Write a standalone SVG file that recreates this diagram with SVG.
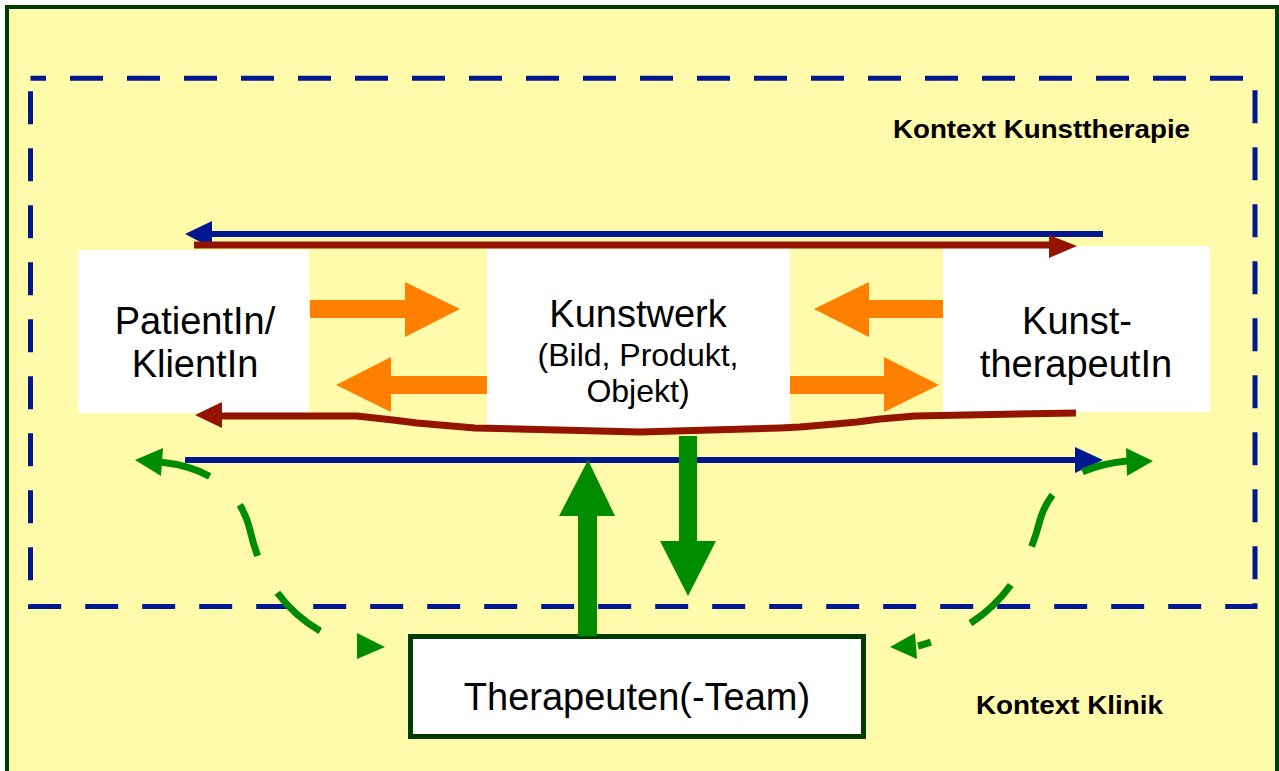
<svg xmlns="http://www.w3.org/2000/svg" width="1279" height="771" viewBox="0 0 1279 771">
<style>
.lbl{font-family:"Liberation Sans",Arial,sans-serif;font-size:38px;fill:#000;text-anchor:middle}
.sub{font-family:"Liberation Sans",Arial,sans-serif;font-size:32px;fill:#000;text-anchor:middle}
.ctx{font-family:"Liberation Sans",Arial,sans-serif;font-size:26px;font-weight:bold;fill:#000}
.box{fill:#fff}
.orange{fill:#FF8000}
.green{fill:#008C00}
.blue{stroke:#001890;stroke-width:6;fill:none}
.red{stroke:#931500;stroke-width:7;fill:none;stroke-linejoin:round}
.gdash{stroke:#008C00;stroke-width:7;fill:none}
</style>
<rect x="0" y="0" width="1279" height="771" fill="#fff"/>
<rect x="7" y="7" width="1270" height="800" fill="#FFFBAA" stroke="#003C00" stroke-width="4"/>
<path d="M30.5,78.3 H1255 V606.5 H30.5 Z" fill="none" stroke="#001890" stroke-width="5" stroke-dasharray="33 24" stroke-dashoffset="17.5"/>
<text class="ctx" x="893" y="138" textLength="297" lengthAdjust="spacingAndGlyphs">Kontext Kunsttherapie</text>
<text class="ctx" x="976" y="714" textLength="187" lengthAdjust="spacingAndGlyphs">Kontext Klinik</text>

<g id="patient">
<rect class="box" x="78" y="250" width="231" height="163"/>
<text class="lbl" x="195" y="334">PatientIn/</text>
<text class="lbl" x="195" y="377">KlientIn</text>
</g>
<g id="kunstwerk">
<rect class="box" x="487" y="249" width="303" height="181"/>
<text class="lbl" x="638" y="327">Kunstwerk</text>
<text class="sub" x="638" y="366">(Bild, Produkt,</text>
<text class="sub" x="638" y="402">Objekt)</text>
</g>
<g id="kunsttherapeut">
<rect class="box" x="943" y="246" width="267" height="166"/>
<text class="lbl" x="1077" y="334">Kunst-</text>
<text class="lbl" x="1076" y="377">therapeutIn</text>
</g>
<g id="therapeuten">
<rect x="410.5" y="636.5" width="453" height="100" fill="#fff" stroke="#003C00" stroke-width="5"/>
<text class="lbl" x="637" y="710">Therapeuten(-Team)</text>
</g>

<g id="connectors">
<line class="blue" x1="1103" y1="234" x2="205" y2="234"/>
<polygon fill="#001890" points="185,234 212,221 212,248"/>
<line class="red" x1="194" y1="245" x2="1055" y2="245"/>
<polygon fill="#931500" points="1049,235 1077,246 1049,258"/>
<path class="red" d="M1076,413 L915,416 L880,419 L857,422 L835,424 L800,427 L780,428 L640,432 L475,428 L440,425 L417,423 L393,420 L357,416 L215,416"/>
<polygon fill="#931500" points="195,415 222,402 222,428"/>
<line class="blue" x1="185" y1="460" x2="1085" y2="460"/>
<polygon fill="#001890" points="1103,460 1075,447 1075,473"/>
<polygon class="orange" points="310,300 405,300 405,282 460,309 405,337 405,318 310,318"/>
<polygon class="orange" points="487,376 391,376 391,357 336,385 391,412 391,394 487,394"/>
<polygon class="orange" points="943,300 869,300 869,282 814,309 869,337 869,318 943,318"/>
<polygon class="orange" points="790,376 884,376 884,357 939,385 884,412 884,394 790,394"/>
<polygon class="green" points="578,636 578,516 559,516 588,460 615,516 597,516 597,636"/>
<polygon class="green" points="679,436 697,436 697,541 716,541 688,596 660,541 679,541"/>
<path class="gdash" d="M160,462 Q235,470 250,530 Q270,620 357,647" stroke-dasharray="52 42 54 42 58 200"/>
<polygon class="green" points="135,460 163,448 161,476"/>
<polygon class="green" points="357,633 385,647 357,659"/>
<path class="gdash" d="M1127,461 Q1055,468 1040,520 Q1015,620 918,646" stroke-dasharray="46 38 56 44 56 44 20"/>
<polygon class="green" points="1153,461 1126,448 1127,476"/>
<polygon class="green" points="890,647 915,633 917,659"/>
</g>
</svg>
